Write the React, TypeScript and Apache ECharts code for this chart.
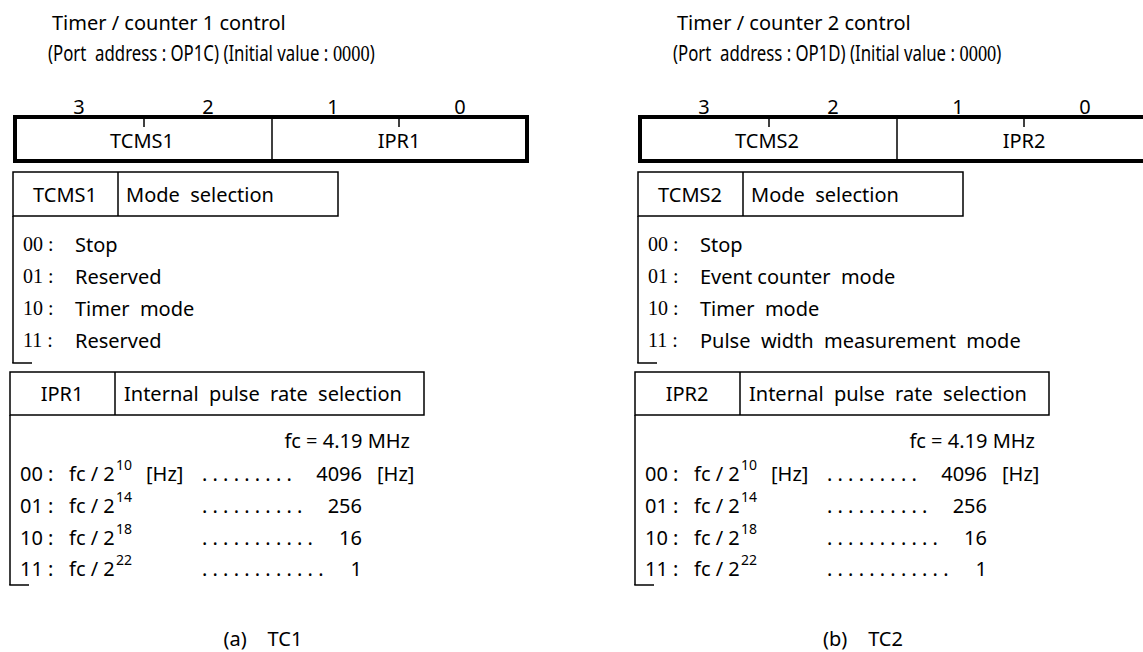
import React, { useEffect, useRef } from "react";
import * as echarts from "echarts";

// ---- content (data) ----
const titles = ["Timer / counter 1 control", "Timer / counter 2 control"];
const portAddresses = ["OP1C", "OP1D"];
const initialValue = "0000";
const bitLabels = ["3", "2", "1", "0"];
const fieldNames = [
  ["TCMS1", "IPR1"],
  ["TCMS2", "IPR2"],
];
const modeHeader = "Mode  selection";
const modeCodes = ["00", "01", "10", "11"];
const tc1Modes = ["Stop", "Reserved", "Timer  mode", "Reserved"];
const tc2Modes = ["Stop", "Event counter  mode", "Timer  mode", "Pulse  width  measurement  mode"];
const iprHeader = "Internal  pulse  rate  selection";
const clockLabel = "fc = 4.19 MHz";
const iprCodes = ["00", "01", "10", "11"];
const iprExponents = ["10", "14", "18", "22"];
const iprRates = ["4096", "256", "16", "1"];
const iprDotCounts = [9, 10, 11, 12];
const captions = ["(a)    TC1", "(b)    TC2"];

// ---- layout ----
const W = 1143;
const H = 652;
const SANS = "'Noto Sans', 'Open Sans', sans-serif";
const SERIF = "'Liberation Serif', 'DejaVu Serif', serif";
const FS = 20;

function txt(x: number, y: number, text: string, opts: any = {}) {
  return {
    type: "text",
    x,
    y,
    scaleX: opts.scaleX ?? 1,
    silent: true,
    style: {
      text,
      fill: "#000",
      fontSize: opts.fontSize ?? FS,
      fontFamily: opts.fontFamily ?? SANS,
      align: opts.align ?? "left",
      verticalAlign: "middle",
      rich: opts.rich,
    },
  };
}
function ln(x1: number, y1: number, x2: number, y2: number, w = 1.5) {
  return {
    type: "line",
    silent: true,
    shape: { x1, y1, x2, y2 },
    style: { stroke: "#000", lineWidth: w },
  };
}
function rc(x: number, y: number, w: number, h: number, lw = 1.5) {
  return {
    type: "rect",
    silent: true,
    shape: { x, y, width: w, height: h },
    style: { fill: "none", stroke: "#000", lineWidth: lw },
  };
}

function buildPanel(p: number): any[] {
  const ox = p === 0 ? 0 : 625;
  const els: any[] = [];
  // titles
  els.push(txt(ox + 52, 22, titles[p]));
  els.push(
    txt(ox + 48, 53, `{a|(Port  address : ${portAddresses[p]}) (Initial value : }{s|${initialValue}}{a|)}`, {
      scaleX: 0.8,
      rich: {
        a: { fontSize: 21, fontFamily: SANS, fill: "#000" },
        s: { fontSize: 23, fontFamily: SERIF, fill: "#000" },
      },
    })
  );
  // bit numbers
  const bitX = [79, 208, 333, 460];
  bitLabels.forEach((b, i) => els.push(txt(ox + bitX[i], 106, b, { align: "center" })));
  // register box
  els.push(rc(ox + 15, 117, 512, 44, 4));
  els.push(ln(ox + 272, 119, ox + 272, 161, 1.5));
  els.push(ln(ox + 144, 119, ox + 144, 127, 1.5));
  els.push(ln(ox + 399, 119, ox + 399, 127, 1.5));
  els.push(txt(ox + 142, 140, fieldNames[p][0], { align: "center" }));
  els.push(txt(ox + 399, 140, fieldNames[p][1], { align: "center" }));

  // mode selection box
  els.push(rc(ox + 13, 172, 325, 44, 1.5));
  els.push(ln(ox + 118, 172, ox + 118, 216, 1.5));
  els.push(txt(ox + 65, 194, fieldNames[p][0], { align: "center" }));
  els.push(txt(ox + 126, 194, modeHeader));
  els.push(ln(ox + 13, 216, ox + 13, 363, 1.5));
  els.push(ln(ox + 12.25, 363, ox + 32, 363, 1.5));
  const modes = p === 0 ? tc1Modes : tc2Modes;
  const modeY = [244, 276, 308, 340];
  modeCodes.forEach((c, i) => {
    els.push(txt(ox + 23, modeY[i], c + " :", { fontFamily: SERIF }));
    els.push(txt(ox + 75, modeY[i], modes[i]));
  });

  // internal pulse rate box
  els.push(rc(ox + 10, 372, 414, 43, 1.5));
  els.push(ln(ox + 115, 372, ox + 115, 415, 1.5));
  els.push(txt(ox + 62, 393, fieldNames[p][1], { align: "center" }));
  els.push(txt(ox + 124, 393, iprHeader));
  els.push(ln(ox + 10, 415, ox + 10, 585, 1.5));
  els.push(ln(ox + 9.25, 585, ox + 29, 585, 1.5));
  els.push(txt(ox + 410, 440, clockLabel, { align: "right" }));
  const rowY = [473, 505, 537, 568];
  iprCodes.forEach((c, i) => {
    const y = rowY[i];
    els.push(txt(ox + 20, y, c + " :"));
    els.push(txt(ox + 69, y, "fc / 2"));
    els.push(txt(ox + 116, y - 9, iprExponents[i], { fontSize: 14 }));
    if (i === 0) els.push(txt(ox + 146, y, "[Hz]"));
    els.push(txt(ox + 202, y, Array(iprDotCounts[i]).fill(".").join(" ")));
    els.push(txt(ox + 362, y, iprRates[i], { align: "right" }));
    if (i === 0) els.push(txt(ox + 377, y, "[Hz]"));
  });

  // caption
  els.push(txt(p === 0 ? 263 : 863, 638, captions[p], { align: "center" }));
  return els;
}

export default function App() {
  const ref = useRef<HTMLDivElement>(null);
  useEffect(() => {
    if (!ref.current) return;
    const chart = echarts.init(ref.current, undefined, { renderer: "svg", width: W, height: H });
    chart.setOption({
      animation: false,
      backgroundColor: "#ffffff",
      graphic: { elements: [...buildPanel(0), ...buildPanel(1)] },
    });
    return () => chart.dispose();
  }, []);
  return (
    <div
      ref={ref}
      style={{ position: "fixed", left: 0, top: 0, width: W, height: H, background: "#fff" }}
    />
  );
}
